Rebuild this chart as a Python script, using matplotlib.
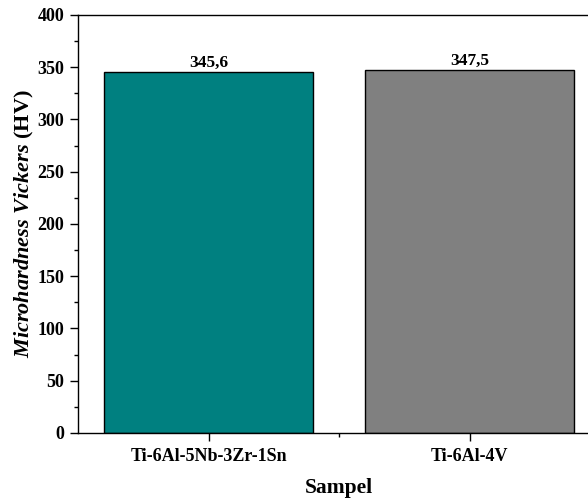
import matplotlib
matplotlib.use("Agg")
import matplotlib.pyplot as plt
from matplotlib.ticker import MultipleLocator, FixedLocator

plt.rcParams["font.family"] = ["Liberation Serif", "DejaVu Serif"]
plt.rcParams["font.weight"] = "bold"
plt.rcParams["mathtext.fontset"] = "custom"
plt.rcParams["mathtext.it"] = "Liberation Serif:italic:bold"
plt.rcParams["mathtext.rm"] = "Liberation Serif:bold"

samples = ["Ti-6Al-5Nb-3Zr-1Sn", "Ti-6Al-4V"]
hardness = [345.6, 347.5]
bar_labels = ["345,6", "347,5"]
colors = ["#008080", "#808080"]

fig = plt.figure(figsize=(5.88, 4.99), dpi=100)
ax = fig.add_axes([0.1327, 0.1323, 0.888, 0.8377])

x = list(range(len(samples)))
bars = ax.bar(x, hardness, width=0.8, color=colors, edgecolor="black", linewidth=1.0)

for b, lab in zip(bars, bar_labels):
    ax.text(b.get_x() + b.get_width() / 2, b.get_height() + 1.0, lab,
            ha="center", va="bottom", fontsize=12.5, fontweight="bold")

ax.set_xlim(-0.5, 1.5)
ax.set_ylim(0, 400)
ax.set_xticks(x)
ax.set_xticklabels(samples, fontsize=13, fontweight="bold")
ax.xaxis.set_minor_locator(FixedLocator([0.5]))
ax.yaxis.set_major_locator(MultipleLocator(50))
ax.yaxis.set_minor_locator(MultipleLocator(25))
for lbl in ax.get_yticklabels():
    lbl.set_fontsize(13)
    lbl.set_fontweight("bold")

ax.tick_params(which="major", direction="out", length=6, width=1.0)
ax.tick_params(which="minor", direction="out", length=3, width=1.0)
ax.tick_params(axis="x", pad=5)
ax.tick_params(axis="y", pad=4)

for s in ax.spines.values():
    s.set_linewidth(1.0)

ax.set_xlabel("Sampel", fontsize=15.5, fontweight="bold", labelpad=9)
ax.set_ylabel(r"$Microhardness\ Vickers$ (HV)", fontsize=16, fontweight="bold", labelpad=1)

fig.savefig("out.png", dpi=100)
